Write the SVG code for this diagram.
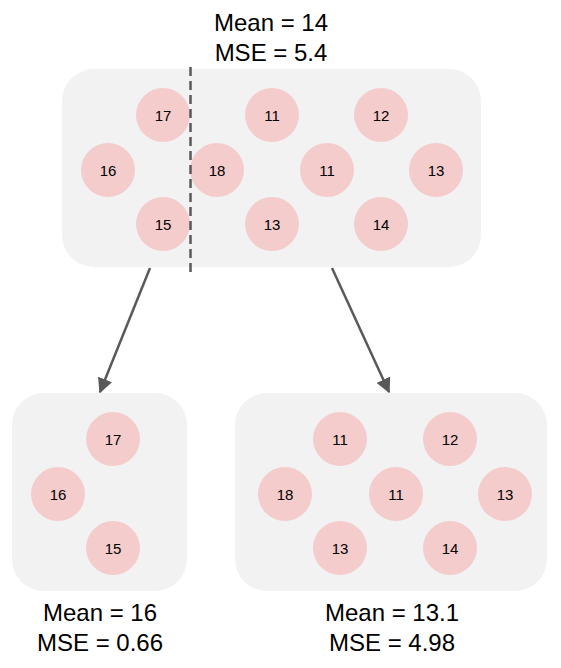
<svg xmlns="http://www.w3.org/2000/svg" width="561" height="668" viewBox="0 0 561 668">
  <defs>
    <style>
      .box { fill: #f2f2f2; }
      .pt circle { fill: #f4cccc; }
      .pt text { font-family: "Liberation Sans", Arial, sans-serif; font-size: 15px; fill: #000; text-anchor: middle; }
      .stat { font-family: "Liberation Sans", Arial, sans-serif; font-size: 24px; fill: #000; text-anchor: middle; }
      .edge { stroke: #595959; stroke-width: 2.5; fill: none; }
      .split { stroke: #595959; stroke-width: 2.5; stroke-dasharray: 9 5; fill: none; }
    </style>
    <marker id="arrow" viewBox="0 0 10 10" refX="9" refY="5" markerWidth="6" markerHeight="6" markerUnits="strokeWidth" orient="auto">
      <path d="M0,0 L10,5 L0,10 z" fill="#595959"/>
    </marker>
  </defs>

  <!-- root node: all 10 samples -->
  <g id="root">
    <rect class="box" x="62" y="69" width="419" height="198" rx="32"/>
    <text class="stat" x="271" y="31">Mean = 14</text>
    <text class="stat" x="271" y="61">MSE = 5.4</text>
    <g class="pt"><circle cx="163" cy="115" r="27"/><text x="163" y="120.5">17</text></g>
    <g class="pt"><circle cx="108" cy="170" r="27"/><text x="108" y="175.5">16</text></g>
    <g class="pt"><circle cx="163" cy="224" r="27"/><text x="163" y="229.5">15</text></g>
    <g class="pt"><circle cx="217" cy="170" r="27"/><text x="217" y="175.5">18</text></g>
    <g class="pt"><circle cx="272" cy="115" r="27"/><text x="272" y="120.5">11</text></g>
    <g class="pt"><circle cx="327" cy="170" r="27"/><text x="327" y="175.5">11</text></g>
    <g class="pt"><circle cx="381" cy="115" r="27"/><text x="381" y="120.5">12</text></g>
    <g class="pt"><circle cx="436" cy="170" r="27"/><text x="436" y="175.5">13</text></g>
    <g class="pt"><circle cx="272" cy="224" r="27"/><text x="272" y="229.5">13</text></g>
    <g class="pt"><circle cx="381" cy="224" r="27"/><text x="381" y="229.5">14</text></g>
  </g>

  <!-- left child -->
  <g id="left">
    <rect class="box" x="12" y="393" width="175" height="198" rx="32"/>
    <g class="pt"><circle cx="113" cy="439" r="27"/><text x="113" y="444.5">17</text></g>
    <g class="pt"><circle cx="58" cy="494" r="27"/><text x="58" y="499.5">16</text></g>
    <g class="pt"><circle cx="113" cy="548" r="27"/><text x="113" y="553.5">15</text></g>
    <text class="stat" x="100" y="621">Mean = 16</text>
    <text class="stat" x="100" y="651">MSE = 0.66</text>
  </g>

  <!-- right child -->
  <g id="right">
    <rect class="box" x="235" y="393" width="312" height="198" rx="32"/>
    <g class="pt"><circle cx="340" cy="439" r="27"/><text x="340" y="444.5">11</text></g>
    <g class="pt"><circle cx="450" cy="439" r="27"/><text x="450" y="444.5">12</text></g>
    <g class="pt"><circle cx="285" cy="494" r="27"/><text x="285" y="499.5">18</text></g>
    <g class="pt"><circle cx="396" cy="494" r="27"/><text x="396" y="499.5">11</text></g>
    <g class="pt"><circle cx="505" cy="494" r="27"/><text x="505" y="499.5">13</text></g>
    <g class="pt"><circle cx="340" cy="548" r="27"/><text x="340" y="553.5">13</text></g>
    <g class="pt"><circle cx="450" cy="548" r="27"/><text x="450" y="553.5">14</text></g>
    <text class="stat" x="392" y="621">Mean = 13.1</text>
    <text class="stat" x="392" y="651">MSE = 4.98</text>
  </g>

  <!-- split line and edges -->
  <g id="connectors">
    <line class="split" x1="190.5" y1="67" x2="190.5" y2="272"/>
    <line class="edge" x1="150" y1="268" x2="100" y2="392" marker-end="url(#arrow)"/>
    <line class="edge" x1="332" y1="268" x2="389" y2="392" marker-end="url(#arrow)"/>
  </g>
</svg>
